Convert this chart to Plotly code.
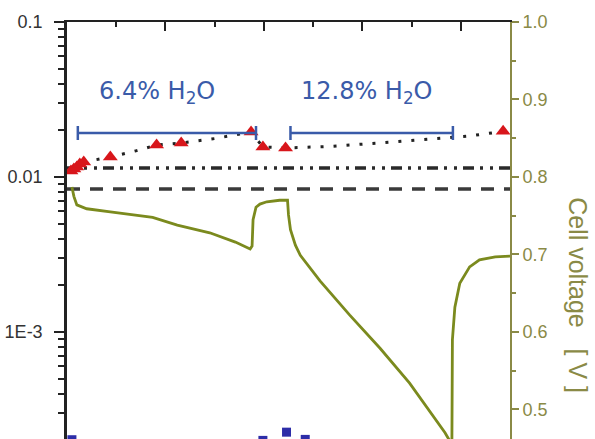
import math
import plotly.graph_objects as go

# ---- data (time in arbitrary units, left axis log, right axis cell voltage) ----
tri_t = [0.04, 0.07, 0.10, 0.13, 0.17, 0.44, 0.91, 1.16, 1.87, 1.99, 2.22, 4.43]
tri_v = [0.01094, 0.01128, 0.01162, 0.01214, 0.01250, 0.01346, 0.01607, 0.01656, 0.01950, 0.01563, 0.01540, 0.01970]

trend_t = [0.17, 0.44, 0.69, 0.91, 1.16, 1.50, 1.87, 1.99, 2.22, 2.67, 3.18, 3.63, 4.06, 4.43]
trend_v = [0.01250, 0.01346, 0.01470, 0.01607, 0.01656, 0.01770, 0.01950, 0.01563, 0.01540, 0.01575, 0.01660, 0.01750, 0.01830, 0.01970]

level_t = [0.0, 4.5]
dashdot_v = [0.01143, 0.01143]
dashed_v = [0.00838, 0.00838]

volt_t = [0.05, 0.07, 0.10, 0.20, 0.44, 0.87, 1.12, 1.45, 1.71, 1.86, 1.88, 1.89, 1.92, 1.96, 2.03,
          2.16, 2.24, 2.25, 2.27, 2.32, 2.37, 2.47, 2.57, 2.87, 3.18, 3.48, 3.84, 3.89, 3.90,
          3.91, 3.912, 3.915, 3.94, 3.99, 4.09, 4.19, 4.35, 4.50]
volt_v = [0.787, 0.775, 0.764, 0.759, 0.755, 0.748, 0.738, 0.728, 0.716, 0.707, 0.711, 0.745, 0.761, 0.765, 0.768,
          0.770, 0.770, 0.751, 0.732, 0.712, 0.699, 0.683, 0.666, 0.622, 0.579, 0.534, 0.470, 0.459, 0.435,
          0.461, 0.551, 0.590, 0.632, 0.663, 0.684, 0.693, 0.697, 0.698]

sq_t = [0.05, 1.99, 2.23, 2.42]
sq_v = [0.000202, 0.000200, 0.000226, 0.000203]

bracket_start = [0.11, 2.27]
bracket_end = [1.92, 3.92]
bracket_v = [0.01923, 0.01923]
bracket_labels = ["6.4% H<sub>2</sub>O", "12.8% H<sub>2</sub>O"]
label_x = [0.91, 3.05]
label_v = 0.0353

left_tickvals = [0.1, 0.01, 0.001]
left_ticktext = ["0.1", "0.01", "1E-3"]
right_tickvals = [0.5, 0.6, 0.7, 0.8, 0.9, 1.0]
right_ticktext = ["0.5", "0.6", "0.7", "0.8", "0.9", "1.0"]

OLIVE = "#7b8a1e"
OLIVE_AX = "#8a8a46"
BLUE = "#3a5ba9"

fig = go.Figure()

# horizontal reference levels
fig.add_trace(go.Scatter(x=level_t, y=dashed_v, mode="lines",
                         line=dict(color="#3a3a3a", width=3.5, dash="13px,10px"), showlegend=False))
fig.add_trace(go.Scatter(x=level_t, y=dashdot_v, mode="lines",
                         line=dict(color="#2a2a2a", width=3.5, dash="11px,6px,3px,7px,3px,6px"), showlegend=False))

# dotted trend
fig.add_trace(go.Scatter(x=trend_t, y=trend_v, mode="lines",
                         line=dict(color="#222222", width=3, dash="3px,10px"), showlegend=False))
fig.add_trace(go.Scatter(x=tri_t[:5], y=tri_v[:5], mode="lines",
                         line=dict(color="#222222", width=3, dash="3px,5px"), showlegend=False))

# red triangles
fig.add_trace(go.Scatter(x=tri_t, y=tri_v, mode="markers",
                         marker=dict(symbol="triangle-up", size=13, color="#d8161b"), showlegend=False))

# blue squares at the bottom edge
fig.add_trace(go.Scatter(x=sq_t, y=sq_v, mode="markers",
                         marker=dict(symbol="square", size=9, color="#2d2da8"), showlegend=False))

# brackets
for s, e, v in zip(bracket_start, bracket_end, bracket_v):
    mid = (s + e) / 2
    fig.add_trace(go.Scatter(x=[mid], y=[v], mode="markers", marker=dict(size=1, opacity=0),
                             error_x=dict(type="data", array=[(e - s) / 2], symmetric=True,
                                          color=BLUE, thickness=2.5, width=7),
                             showlegend=False))

# cell voltage
fig.add_trace(go.Scatter(x=volt_t, y=volt_v, mode="lines", yaxis="y2",
                         line=dict(color=OLIVE, width=2.8), showlegend=False))

for lx, txt in zip(label_x, bracket_labels):
    fig.add_annotation(x=lx, y=math.log10(label_v), xref="x", yref="y", text=txt, showarrow=False,
                       font=dict(family="DejaVu Sans", size=24, color=BLUE))

fig.add_annotation(x=1.1535, y=0.345, xref="paper", yref="paper", text="Cell voltage   [ V ]",
                   textangle=90, showarrow=False, xanchor="center", yanchor="middle",
                   font=dict(family="Liberation Sans, Arial", size=25, color=OLIVE_AX))

minor_left = [m * 10 ** d for d in (-4, -3, -2) for m in range(2, 10)]

fig.update_layout(
    width=595, height=439,
    margin=dict(l=67, r=85, t=22, b=0, autoexpand=False),
    paper_bgcolor="white", plot_bgcolor="white",
    font=dict(family="Liberation Sans, Arial", size=18, color="#333333"),
    xaxis=dict(range=[0, 4.5], side="top", showline=True, linecolor="#222222", linewidth=2,
               ticks="inside", ticklen=9, tickwidth=2, tickcolor="#222222", dtick=1, tick0=0,
               showticklabels=False, showgrid=False, zeroline=False,
               minor=dict(ticks="inside", ticklen=5, tickwidth=2, tickcolor="#222222", dtick=0.5, showgrid=False)),
    yaxis=dict(type="log", range=[-3.690, -1], showline=True, linecolor="#222222",
               linewidth=2.5, ticks="outside", ticklen=10, tickwidth=2, tickcolor="#222222",
               tickvals=left_tickvals, ticktext=left_ticktext, showgrid=False, zeroline=False,
               ticklabelstandoff=8, tickfont=dict(size=18, color="#333333"),
               minor=dict(ticks="outside", ticklen=6, tickwidth=2, tickcolor="#222222",
                          tickvals=minor_left, showgrid=False)),
    yaxis2=dict(overlaying="y", side="right", range=[0.4619, 1.0], showline=True,
                linecolor=OLIVE_AX, linewidth=2, ticks="outside", ticklen=7, tickwidth=2,
                tickcolor=OLIVE_AX, tickvals=right_tickvals, ticktext=right_ticktext,
                showgrid=False, zeroline=False, tickfont=dict(size=18, color=OLIVE_AX),
                minor=dict(ticks="outside", ticklen=4, tickwidth=2, tickcolor=OLIVE_AX, dtick=0.05,
                           showgrid=False)),
)

fig.write_html("out.html")
